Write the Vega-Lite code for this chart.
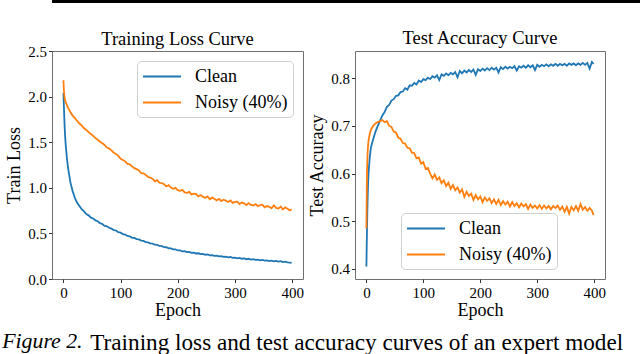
{
"$schema": "https://vega.github.io/schema/vega-lite/v6.json",
"padding": {"left": 2, "right": 0, "top": 0, "bottom": 0},
"background": "white",
"config": {
  "font": "Liberation Serif",
  "view": {"stroke": "#707070", "strokeWidth": 1},
  "axis": {"grid": false, "domain": false, "tickColor": "#333", "tickSize": 3.5, "tickWidth": 1, "labelFont": "Liberation Serif", "titleFont": "Liberation Serif", "labelFontSize": 15, "labelColor": "#000", "labelPadding": 2, "titleFontSize": 18, "titleFontWeight": "normal", "titleColor": "#000", "titlePadding": 4},
  "axisX": {"labelPadding": 2.5, "titlePadding": 1},
  "title": {"font": "Liberation Serif", "fontSize": 18.5, "fontWeight": "normal", "color": "#000", "offset": 0},
  "legend": {"labelFont": "Liberation Serif", "symbolType": "M-1,0H3", "symbolSize": 361, "symbolStrokeWidth": 2, "labelFontSize": 18, "labelColor": "#000", "labelOffset": 32, "rowPadding": 6, "padding": 5, "strokeColor": "#d0d0d0", "fillColor": "white", "cornerRadius": 4}
},
"title": {"text": "Figure 2.", "orient": "bottom", "anchor": "start", "font": "Liberation Serif", "fontSize": 21.8, "fontStyle": "italic", "fontWeight": "normal", "color": "#000", "offset": -23, "dx": -3},
"datasets": {
"strip": [{"k": 1}],
"loss": [
{"e":0,"c":2.04,"n":2.18},{"e":1,"c":1.86,"n":2.05},{"e":2,"c":1.69,"n":1.99},{"e":3,"c":1.56,"n":1.96},{"e":4,"c":1.47,"n":1.94},{"e":6,"c":1.33,"n":1.91},{"e":8,"c":1.22,"n":1.88},
{"e":12,"c":1.065,"n":1.83},{"e":16,"c":0.965,"n":1.792},{"e":20,"c":0.89,"n":1.765},{"e":24,"c":0.835,"n":1.733},{"e":28,"c":0.8,"n":1.705},{"e":32,"c":0.765,"n":1.682},{"e":36,"c":0.742,"n":1.652},{"e":40,"c":0.712,"n":1.635},
{"e":44,"c":0.698,"n":1.61},{"e":48,"c":0.672,"n":1.59},{"e":52,"c":0.664,"n":1.57},{"e":56,"c":0.643,"n":1.545},{"e":60,"c":0.633,"n":1.528},{"e":64,"c":0.612,"n":1.505},{"e":68,"c":0.603,"n":1.488},{"e":72,"c":0.583,"n":1.47},
{"e":76,"c":0.578,"n":1.442},{"e":80,"c":0.562,"n":1.43},{"e":84,"c":0.553,"n":1.41},{"e":88,"c":0.537,"n":1.385},{"e":92,"c":0.532,"n":1.372},{"e":96,"c":0.513,"n":1.35},{"e":100,"c":0.508,"n":1.318},{"e":104,"c":0.492,"n":1.305},
{"e":108,"c":0.488,"n":1.29},{"e":112,"c":0.472,"n":1.262},{"e":116,"c":0.468,"n":1.258},{"e":120,"c":0.452,"n":1.235},{"e":124,"c":0.45,"n":1.215},{"e":128,"c":0.437,"n":1.205},{"e":132,"c":0.434,"n":1.19},{"e":136,"c":0.421,"n":1.16},
{"e":140,"c":0.418,"n":1.158},{"e":144,"c":0.405,"n":1.14},{"e":148,"c":0.402,"n":1.118},{"e":152,"c":0.39,"n":1.112},{"e":156,"c":0.388,"n":1.098},{"e":160,"c":0.376,"n":1.07},{"e":164,"c":0.374,"n":1.085},{"e":168,"c":0.362,"n":1.055},
{"e":172,"c":0.36,"n":1.05},{"e":176,"c":0.349,"n":1.04},{"e":180,"c":0.348,"n":1.015},{"e":184,"c":0.337,"n":1.03},{"e":188,"c":0.336,"n":1.002},{"e":192,"c":0.325,"n":0.99},{"e":196,"c":0.324,"n":1.0},{"e":200,"c":0.313,"n":0.975},
{"e":204,"c":0.313,"n":0.968},{"e":208,"c":0.304,"n":0.978},{"e":212,"c":0.305,"n":0.95},{"e":216,"c":0.295,"n":0.945},{"e":220,"c":0.297,"n":0.955},{"e":224,"c":0.287,"n":0.928},{"e":228,"c":0.289,"n":0.935},{"e":232,"c":0.28,"n":0.93},
{"e":236,"c":0.282,"n":0.905},{"e":240,"c":0.273,"n":0.92},{"e":244,"c":0.275,"n":0.9},{"e":248,"c":0.266,"n":0.89},{"e":252,"c":0.269,"n":0.905},{"e":256,"c":0.26,"n":0.875},{"e":260,"c":0.262,"n":0.892},{"e":264,"c":0.254,"n":0.88},
{"e":268,"c":0.257,"n":0.862},{"e":272,"c":0.248,"n":0.878},{"e":276,"c":0.251,"n":0.855},{"e":280,"c":0.243,"n":0.87},{"e":284,"c":0.246,"n":0.86},{"e":288,"c":0.238,"n":0.845},{"e":292,"c":0.241,"n":0.862},{"e":296,"c":0.232,"n":0.835},
{"e":300,"c":0.235,"n":0.845},{"e":304,"c":0.227,"n":0.848},{"e":308,"c":0.231,"n":0.822},{"e":312,"c":0.222,"n":0.838},{"e":316,"c":0.226,"n":0.83},{"e":320,"c":0.217,"n":0.81},{"e":324,"c":0.222,"n":0.832},{"e":328,"c":0.213,"n":0.812},
{"e":332,"c":0.218,"n":0.805},{"e":336,"c":0.209,"n":0.822},{"e":340,"c":0.213,"n":0.798},{"e":344,"c":0.205,"n":0.81},{"e":348,"c":0.209,"n":0.815},{"e":352,"c":0.201,"n":0.785},{"e":356,"c":0.205,"n":0.8},{"e":360,"c":0.197,"n":0.792},
{"e":364,"c":0.201,"n":0.775},{"e":368,"c":0.193,"n":0.808},{"e":372,"c":0.198,"n":0.78},{"e":376,"c":0.19,"n":0.772},{"e":380,"c":0.196,"n":0.795},{"e":384,"c":0.186,"n":0.762},{"e":388,"c":0.19,"n":0.785},{"e":392,"c":0.182,"n":0.77},
{"e":396,"c":0.18,"n":0.752},{"e":399,"c":0.176,"n":0.765}
],
"acc": [
{"e":0,"c":0.405,"n":0.485},{"e":1,"c":0.48,"n":0.6},{"e":2,"c":0.54,"n":0.64},{"e":3,"c":0.58,"n":0.66},{"e":4,"c":0.605,"n":0.671},{"e":6,"c":0.635,"n":0.684},{"e":8,"c":0.655,"n":0.692},
{"e":12,"c":0.672,"n":0.7},{"e":16,"c":0.688,"n":0.705},{"e":20,"c":0.7,"n":0.708},{"e":24,"c":0.711,"n":0.71},{"e":28,"c":0.722,"n":0.712},{"e":32,"c":0.729,"n":0.708},{"e":36,"c":0.74,"n":0.71},{"e":40,"c":0.744,"n":0.7},
{"e":44,"c":0.753,"n":0.698},{"e":48,"c":0.756,"n":0.688},{"e":52,"c":0.763,"n":0.686},{"e":56,"c":0.764,"n":0.675},{"e":60,"c":0.771,"n":0.673},{"e":64,"c":0.772,"n":0.664},{"e":68,"c":0.779,"n":0.663},{"e":72,"c":0.776,"n":0.654},
{"e":76,"c":0.785,"n":0.653},{"e":80,"c":0.784,"n":0.644},{"e":84,"c":0.79,"n":0.643},{"e":88,"c":0.787,"n":0.632},{"e":92,"c":0.795,"n":0.634},{"e":96,"c":0.792,"n":0.621},{"e":100,"c":0.798,"n":0.624},{"e":104,"c":0.796,"n":0.61},
{"e":108,"c":0.801,"n":0.612},{"e":112,"c":0.798,"n":0.6},{"e":116,"c":0.804,"n":0.59},{"e":120,"c":0.801,"n":0.598},{"e":124,"c":0.806,"n":0.587},{"e":128,"c":0.796,"n":0.592},{"e":132,"c":0.808,"n":0.58},{"e":136,"c":0.805,"n":0.586},
{"e":140,"c":0.81,"n":0.574},{"e":144,"c":0.806,"n":0.581},{"e":148,"c":0.811,"n":0.568},{"e":152,"c":0.808,"n":0.576},{"e":156,"c":0.813,"n":0.565},{"e":160,"c":0.802,"n":0.571},{"e":164,"c":0.815,"n":0.56},{"e":168,"c":0.81,"n":0.567},
{"e":172,"c":0.816,"n":0.551},{"e":176,"c":0.812,"n":0.562},{"e":180,"c":0.817,"n":0.553},{"e":184,"c":0.813,"n":0.558},{"e":188,"c":0.818,"n":0.545},{"e":192,"c":0.807,"n":0.555},{"e":196,"c":0.819,"n":0.546},{"e":200,"c":0.815,"n":0.552},
{"e":204,"c":0.82,"n":0.54},{"e":208,"c":0.816,"n":0.55},{"e":212,"c":0.821,"n":0.543},{"e":216,"c":0.817,"n":0.548},{"e":220,"c":0.822,"n":0.538},{"e":224,"c":0.818,"n":0.546},{"e":228,"c":0.822,"n":0.536},{"e":232,"c":0.812,"n":0.545},
{"e":236,"c":0.823,"n":0.534},{"e":240,"c":0.819,"n":0.542},{"e":244,"c":0.824,"n":0.535},{"e":248,"c":0.82,"n":0.541},{"e":252,"c":0.824,"n":0.531},{"e":256,"c":0.821,"n":0.54},{"e":260,"c":0.825,"n":0.532},{"e":264,"c":0.816,"n":0.538},
{"e":268,"c":0.825,"n":0.529},{"e":272,"c":0.822,"n":0.537},{"e":276,"c":0.826,"n":0.531},{"e":280,"c":0.822,"n":0.536},{"e":284,"c":0.827,"n":0.526},{"e":288,"c":0.823,"n":0.535},{"e":292,"c":0.827,"n":0.528},{"e":296,"c":0.817,"n":0.533},
{"e":300,"c":0.828,"n":0.527},{"e":304,"c":0.824,"n":0.534},{"e":308,"c":0.828,"n":0.526},{"e":312,"c":0.825,"n":0.533},{"e":316,"c":0.829,"n":0.527},{"e":320,"c":0.825,"n":0.532},{"e":324,"c":0.829,"n":0.525},{"e":328,"c":0.826,"n":0.532},
{"e":332,"c":0.83,"n":0.528},{"e":336,"c":0.826,"n":0.533},{"e":340,"c":0.83,"n":0.524},{"e":344,"c":0.827,"n":0.531},{"e":348,"c":0.83,"n":0.52},{"e":352,"c":0.826,"n":0.53},{"e":356,"c":0.831,"n":0.516},{"e":360,"c":0.828,"n":0.53},
{"e":364,"c":0.831,"n":0.523},{"e":368,"c":0.827,"n":0.532},{"e":372,"c":0.831,"n":0.522},{"e":376,"c":0.828,"n":0.536},{"e":380,"c":0.832,"n":0.524},{"e":384,"c":0.828,"n":0.53},{"e":388,"c":0.832,"n":0.522},{"e":392,"c":0.82,"n":0.528},
{"e":396,"c":0.834,"n":0.522},{"e":399,"c":0.83,"n":0.513}
]
},
"columns": 1,
"spacing": 25,
"concat": [
{
  "width": 640, "height": 3,
  "data": {"name": "strip"},
  "view": {"fill": "black", "stroke": null},
  "mark": {"type": "rect", "opacity": 0},
  "encoding": {}
},
{
  "spacing": 4,
  "title": {"text": "Training loss and test accuracy curves of an expert model", "orient": "bottom", "anchor": "start", "font": "Liberation Serif", "fontSize": 23.2, "fontStyle": "normal", "fontWeight": "normal", "color": "#000", "offset": 12, "dx": 85},
  "hconcat": [
  {
    "width": 251, "height": 228,
    "title": {"text": "Training Loss Curve", "offset": -4},
    "data": {"name": "loss"},
    "transform": [{"fold": ["c", "n"], "as": ["series", "value"]}],
    "mark": {"type": "line", "strokeWidth": 1.8},
    "encoding": {
      "x": {"field": "e", "type": "quantitative", "scale": {"domain": [-20, 419], "nice": false, "zero": false}, "axis": {"values": [0, 100, 200, 300, 400], "title": "Epoch"}},
      "y": {"field": "value", "type": "quantitative", "scale": {"domain": [0, 2.5], "nice": false}, "axis": {"values": [0, 0.5, 1, 1.5, 2, 2.5], "format": ".1f", "title": "Train Loss"}},
      "color": {"field": "series", "type": "nominal", "scale": {"domain": ["c", "n"], "range": ["#1f77b4", "#ff7f0e"]},
        "legend": {"title": null, "orient": "none", "legendX": 85, "legendY": 10, "labelExpr": "datum.label == 'c' ? 'Clean' : 'Noisy (40%)'"}}
    }
  },
  {
    "width": 250, "height": 228,
    "title": {"text": "Test Accuracy Curve", "offset": 4},
    "data": {"name": "acc"},
    "transform": [{"fold": ["c", "n"], "as": ["series", "value"]}],
    "mark": {"type": "line", "strokeWidth": 1.8},
    "encoding": {
      "x": {"field": "e", "type": "quantitative", "scale": {"domain": [-20, 419], "nice": false, "zero": false}, "axis": {"values": [0, 100, 200, 300, 400], "title": "Epoch"}},
      "y": {"field": "value", "type": "quantitative", "scale": {"domain": [0.379, 0.857], "nice": false, "zero": false}, "axis": {"values": [0.4, 0.5, 0.6, 0.7, 0.8], "format": ".1f", "title": "Test Accuracy"}},
      "color": {"field": "series", "type": "nominal", "scale": {"domain": ["c", "n"], "range": ["#1f77b4", "#ff7f0e"]},
        "legend": {"title": null, "orient": "none", "legendX": 46, "legendY": 162, "labelExpr": "datum.label == 'c' ? 'Clean' : 'Noisy (40%)'"}}
    }
  }
  ],
  "resolve": {"legend": {"color": "independent"}, "scale": {"color": "independent"}}
}
],
"resolve": {"legend": {"color": "independent"}, "scale": {"color": "independent"}}
}
